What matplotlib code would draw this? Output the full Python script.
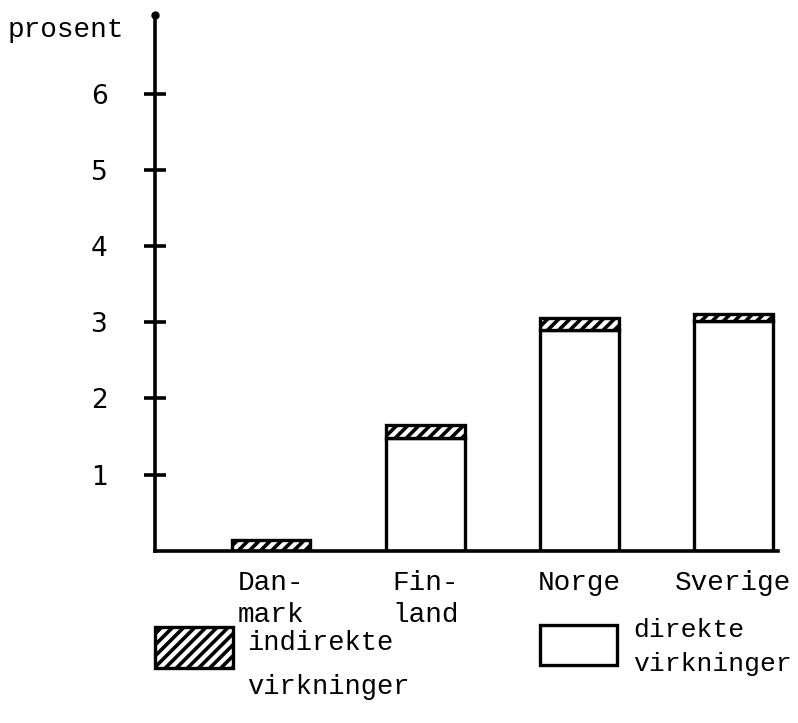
import matplotlib
matplotlib.use("Agg")
import matplotlib.pyplot as plt
from matplotlib.patches import Rectangle

# data (prosent)
countries = ["Dan-\nmark", "Fin-\nland", "Norge", "Sverige"]
direkte = [0.0, 1.48, 2.90, 3.02]
indirekte = [0.14, 0.17, 0.16, 0.09]
y_ticks = [1, 2, 3, 4, 5, 6]

mono = "Liberation Mono"
plt.rcParams["hatch.linewidth"] = 2.6
plt.rcParams["hatch.color"] = "black"

fig = plt.figure(figsize=(7.98, 7.23), dpi=100)
ax = fig.add_axes([0.1942, 0.2379, 0.781, 0.7414])

x = list(range(len(countries)))
ax.bar(x, direkte, width=0.51, color="white", edgecolor="black", linewidth=2.4)
ax.bar(x, indirekte, bottom=direkte, width=0.51, color="white",
       edgecolor="black", linewidth=2.4, hatch="///")

ax.set_xlim(-0.753, 3.29)
ax.set_ylim(0, 7.03)

ax.spines[["top", "right"]].set_visible(False)
ax.spines["left"].set_linewidth(2.6)
ax.spines["bottom"].set_linewidth(2.6)

ax.set_yticks(y_ticks)
ax.set_yticklabels([str(t) for t in y_ticks], fontsize=19, family="DejaVu Sans")
ax.tick_params(axis="y", direction="inout", length=16, width=2.6, pad=26)

ax.set_xticks(x)
ax.set_xticklabels(countries, fontsize=20, family=mono, linespacing=1.3)
ax.tick_params(axis="x", length=0, pad=14)

# dot on top of y axis
ax.plot([-0.753], [7.03], "o", color="black", markersize=5, clip_on=False)

fig.text(8 / 798, 1 - 30 / 723, "prosent", fontsize=20, family=mono,
         ha="left", va="center")

# legend
fig.patches.append(Rectangle((155 / 798, 1 - 668 / 723), 78 / 798, 41 / 723,
                             transform=fig.transFigure, facecolor="white",
                             edgecolor="black", linewidth=2.4, hatch="///"))
fig.text(247 / 798, 1 - 665 / 723, "indirekte\nvirkninger", fontsize=19.5,
         family=mono, ha="left", va="center", linespacing=1.95)

fig.patches.append(Rectangle((540 / 798, 1 - 665 / 723), 77 / 798, 40 / 723,
                             transform=fig.transFigure, facecolor="white",
                             edgecolor="black", linewidth=2.4))
fig.text(633 / 798, 1 - 647 / 723, "direkte\nvirkninger", fontsize=19,
         family=mono, ha="left", va="center", linespacing=1.5)

fig.savefig("out.png", dpi=100)
